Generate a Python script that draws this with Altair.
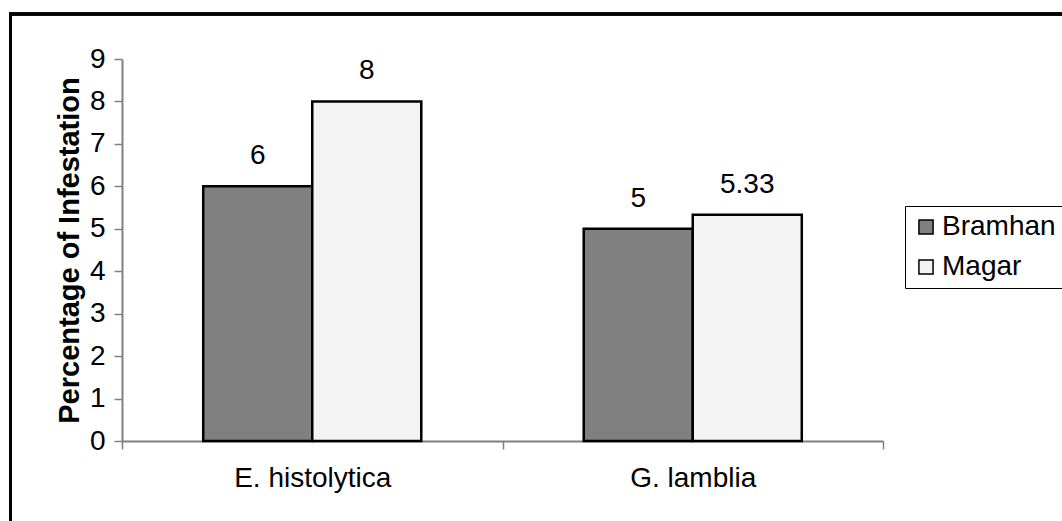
import altair as alt
import pandas as pd

parasites = ["E. histolytica", "E. histolytica", "G. lamblia", "G. lamblia"]
groups = ["Bramhan", "Magar", "Bramhan", "Magar"]
values = [6, 8, 5, 5.33]
labels = ["6", "8", "5", "5.33"]
y_ticks = [0, 1, 2, 3, 4, 5, 6, 7, 8, 9]

df = pd.DataFrame({"parasite": parasites, "group": groups, "value": values, "label": labels})

FONT = "Liberation Sans"
FS = 28

x_enc = alt.X(
    "parasite:N",
    title=None,
    scale=alt.Scale(paddingInner=0, paddingOuter=0),
    axis=alt.Axis(
        labelAngle=0, labelFontSize=FS, labelFont=FONT, labelColor="black",
        labelPadding=15, tickBand="extent", tickSize=8, tickColor="#808080",
        domainColor="#808080", domainWidth=2, tickWidth=1.5,
    ),
)
xoff = alt.XOffset(
    "group:N",
    scale=alt.Scale(domain=["Bramhan", "Magar"], paddingInner=0, paddingOuter=0.745),
)
y_enc = alt.Y(
    "value:Q",
    scale=alt.Scale(domain=[0, 9], nice=False),
    axis=alt.Axis(
        title="Percentage of Infestation", titleFontSize=29, titleFont=FONT,
        titleFontWeight="bold", titleColor="black", titlePadding=5,
        values=y_ticks, labelFontSize=FS, labelFont=FONT, labelColor="black",
        labelPadding=9, tickSize=8, tickColor="#808080", domainColor="#808080",
        domainWidth=2, tickWidth=1.5, grid=False,
    ),
)

bars = alt.Chart(df).mark_bar(stroke="black", strokeWidth=2.5).encode(
    x=x_enc,
    xOffset=xoff,
    y=y_enc,
    color=alt.Color(
        "group:N",
        scale=alt.Scale(domain=["Bramhan", "Magar"], range=["#808080", "#f3f3f3"]),
        legend=alt.Legend(
            title=None, orient="none", legendX=783, legendY=147,
            strokeColor="black", padding=7, symbolType="square", symbolSize=200,
            symbolStrokeColor="black", symbolStrokeWidth=1.5, labelFontSize=FS,
            labelFont=FONT, labelColor="black", rowPadding=12, labelOffset=2,
        ),
    ),
)

text = alt.Chart(df).mark_text(
    fontSize=FS, font=FONT, color="black", baseline="alphabetic", dy=-22
).encode(x=x_enc, xOffset=xoff, y=y_enc, text="label:N")

border = alt.Chart(df).mark_rect(
    fill=None, stroke="black", strokeWidth=3
).encode(
    x=alt.value(-111.5), x2=alt.value(960), y=alt.value(-45), y2=alt.value(480)
)

chart = alt.layer(border, bars, text).properties(
    width=761, height=382,
    autosize=alt.AutoSizeParams(type="none"),
    padding={"left": 122, "top": 59, "right": 179, "bottom": 80},
).configure(font=FONT, background="white").configure_view(stroke=None)

chart.save("out.html", embed_options={"renderer": "svg", "actions": False})
